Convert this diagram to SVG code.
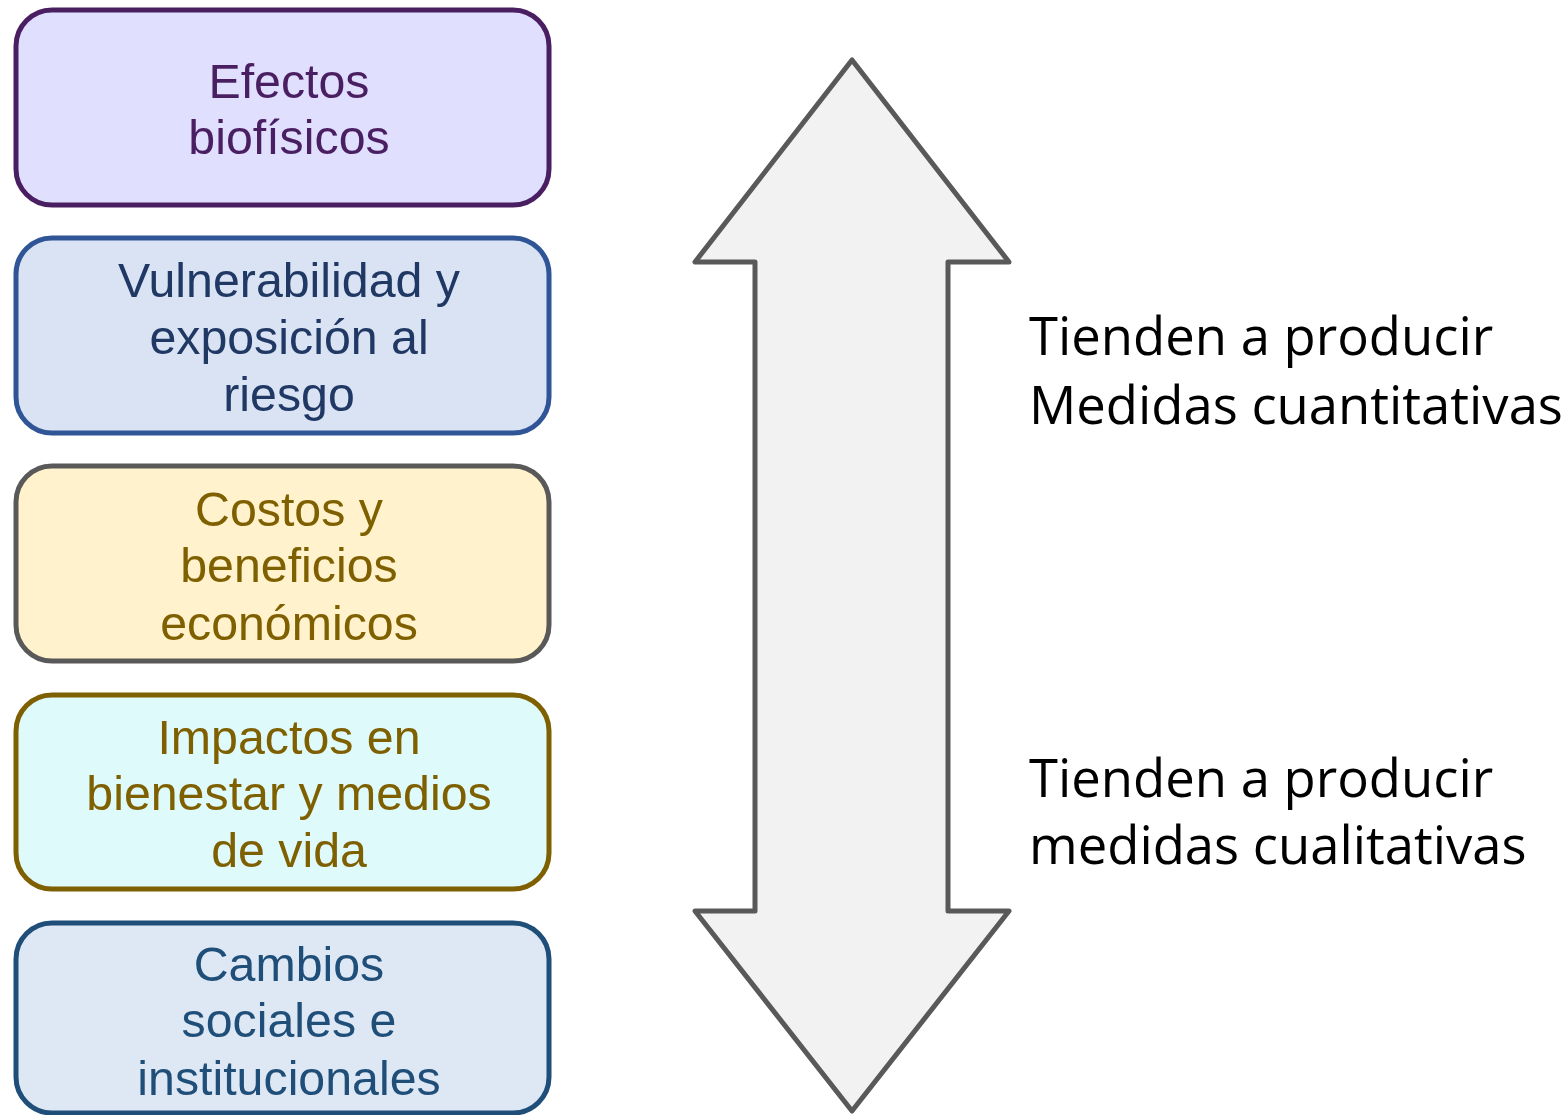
<svg xmlns="http://www.w3.org/2000/svg" width="1568" height="1115" viewBox="0 0 1568 1115">
<style>
.box{stroke-width:5}
.lbl{font-family:"Liberation Sans",Arial,sans-serif;font-size:48.3px;text-anchor:middle}
.side{font-family:"Open Sans","Noto Sans",sans-serif;font-size:52.6px;fill:#000}
</style>
<rect width="1568" height="1115" fill="#fff"/>
<g id="arrow">
<polygon points="852,60 695,262 755,262 755,911 695,911 852,1111 1009,911 948,911 948,262 1009,262" fill="#f2f2f2" stroke="#595959" stroke-width="5" stroke-linejoin="round"/>
</g>
<g id="connectors"></g>
<g id="n1">
<rect class="box" x="16" y="10" width="533" height="195" rx="36" fill="#e0dffe" stroke="#4a1f62"/>
<text class="lbl" fill="#4a1f62"><tspan x="289" y="98">Efectos</tspan><tspan x="289" y="154">biofísicos</tspan></text>
</g>
<g id="n2">
<rect class="box" x="16" y="238" width="533" height="195" rx="36" fill="#dae3f3" stroke="#2f5597"/>
<text class="lbl" fill="#203864"><tspan x="289" y="297">Vulnerabilidad y</tspan><tspan x="289" y="354">exposición al</tspan><tspan x="289" y="411">riesgo</tspan></text>
</g>
<g id="n3">
<rect class="box" x="16" y="466" width="533" height="195" rx="36" fill="#fff2cc" stroke="#595959"/>
<text class="lbl" fill="#7f6000"><tspan x="289" y="526">Costos y</tspan><tspan x="289" y="582">beneficios</tspan><tspan x="289" y="640">económicos</tspan></text>
</g>
<g id="n4">
<rect class="box" x="16" y="695" width="533" height="194" rx="36" fill="#defafa" stroke="#7f6000"/>
<text class="lbl" fill="#7f6000"><tspan x="289" y="754">Impactos en</tspan><tspan x="289" y="810">bienestar y medios</tspan><tspan x="289" y="867">de vida</tspan></text>
</g>
<g id="n5">
<rect class="box" x="16" y="923" width="533" height="190" rx="36" fill="#dde8f4" stroke="#1f4e79"/>
<text class="lbl" fill="#1f4e79"><tspan x="289" y="981">Cambios</tspan><tspan x="289" y="1037">sociales e</tspan><tspan x="289" y="1095">institucionales</tspan></text>
</g>
<g id="t1">
<text class="side"><tspan x="1029" y="355">Tienden a producir</tspan><tspan x="1029" y="424">Medidas cuantitativas</tspan></text>
</g>
<g id="t2">
<text class="side"><tspan x="1029" y="797">Tienden a producir</tspan><tspan x="1029" y="864">medidas cualitativas</tspan></text>
</g>
</svg>
